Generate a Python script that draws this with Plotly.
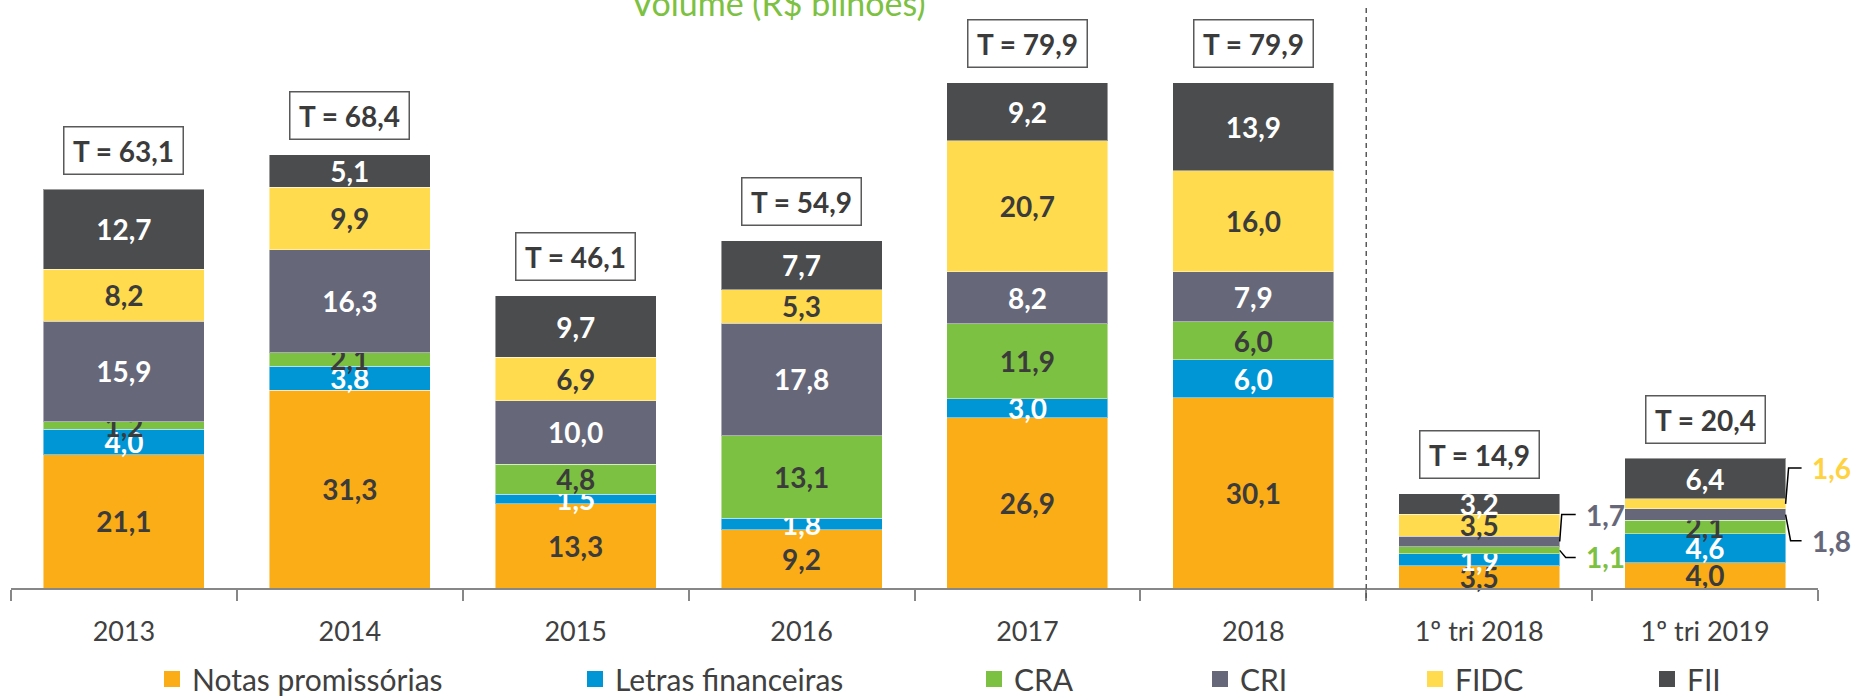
import plotly.graph_objects as go

# ---------------- data ----------------
categories = ['2013', '2014', '2015', '2016', '2017', '2018', '1º tri 2018', '1º tri 2019']
series_names = ['Notas promissórias', 'Letras financeiras', 'CRA', 'CRI', 'FIDC', 'FII']
notas = [21.1, 31.3, 13.3, 9.2, 26.9, 30.1, 3.5, 4.0]
letras = [4.0, 3.8, 1.5, 1.8, 3.0, 6.0, 1.9, 4.6]
cra = [1.2, 2.1, 4.8, 13.1, 11.9, 6.0, 1.1, 2.1]
cri = [15.9, 16.3, 10.0, 17.8, 8.2, 7.9, 1.7, 1.8]
fidc = [8.2, 9.9, 6.9, 5.3, 20.7, 16.0, 3.5, 1.6]
fii = [12.7, 5.1, 9.7, 7.7, 9.2, 13.9, 3.2, 6.4]
totals = [63.1, 68.4, 46.1, 54.9, 79.9, 79.9, 14.9, 20.4]
title_text = 'Volume (R$ bilhões)'
# segments whose label is drawn outside the bar with a leader line: (series index, category index)
outside = [(2, 6), (3, 6), (4, 7), (3, 7)]

# ---------------- style ----------------
W, H = 1853, 696
ML, MR, MT, MB = 11, 35, 0, 108
PW = W - ML - MR
PH = H - MT - MB
SCALE = 6.323  # px per unit
YMAX = PH / SCALE
BAR_FRAC = 0.713
NCAT = len(categories)

colors = ['#FBAD18', '#0096D6', '#7DC142', '#666879', '#FFDB4D', '#4B4C4E']
label_colors = ['#3B3B3B', '#FFFFFF', '#3B3B3B', '#FFFFFF', '#3B3B3B', '#FFFFFF']
outside_colors = {2: '#7DC142', 3: '#666879', 4: '#FFD23F'}
DARK = '#404040'
FONT = 'Lato'
LABEL_SIZE = 28

values = [notas, letras, cra, cri, fidc, fii]


def fmt(v):
    return f'{v:.1f}'.replace('.', ',')


fig = go.Figure()

for si, (name, vals) in enumerate(zip(series_names, values)):
    texts = []
    for ci, v in enumerate(vals):
        texts.append('' if (si, ci) in outside else fmt(v))
    fig.add_trace(go.Bar(
        x=categories, y=vals, name=name,
        marker=dict(color=colors[si], line=dict(color='rgba(255,255,255,0.45)', width=1)),
        text=texts, textposition='inside', insidetextanchor='middle', textangle=0,
        textfont=dict(family=FONT, size=LABEL_SIZE, color=label_colors[si], weight='bold'),
        showlegend=False, hoverinfo='skip', cliponaxis=False,
    ))

# legend entries (square markers) placed individually like the original
legend_marker_centers = [172, 595, 994, 1220, 1435, 1667]
for si, name in enumerate(series_names):
    lname = 'legend' if si == 0 else f'legend{si + 1}'
    fig.add_trace(go.Scatter(
        x=[None], y=[None], mode='markers', name=name,
        marker=dict(symbol='square', size=16, color=colors[si]),
        legend=lname, showlegend=True, hoverinfo='skip',
    ))

legend_y = (H - 679.0) / H
for si in range(len(series_names)):
    lname = 'legend' if si == 0 else f'legend{si + 1}'
    lx = (legend_marker_centers[si] - 20) / W
    fig.update_layout(**{lname: dict(
        x=lx, y=legend_y, xref='container', yref='container',
        xanchor='left', yanchor='middle', orientation='h',
        font=dict(family=FONT, size=30, color=DARK), bgcolor='rgba(0,0,0,0)',
        borderwidth=0, itemwidth=30,
    )})

# stacked tops
stack_tops = [sum(v[ci] for v in values) for ci in range(NCAT)]

annotations = []
for ci, cat in enumerate(categories):
    annotations.append(dict(
        x=ci, y=stack_tops[ci], xref='x', yref='y', text=f'<b>T = {fmt(totals[ci])}</b>',
        showarrow=False, yanchor='middle', xanchor='center', yshift=39,
        font=dict(family=FONT, size=28, color='#3B3B3B'),
        bordercolor='#595959', borderwidth=1.5, borderpad=1, width=116, height=44,
        bgcolor='white',
    ))

# outside labels with leader lines
shapes = []


def px_to_paper_x(px):
    return (px - ML) / PW


def cum_center(si, ci):
    base = sum(values[k][ci] for k in range(si))
    return base + values[si][ci] / 2


leader_cfg = {
    (2, 6): dict(yshift=-7, dx1=6, dx2=16),
    (3, 6): dict(yshift=27, dx1=2, dx2=16),
    (4, 7): dict(yshift=36, dx1=3, dx2=16),
    (3, 7): dict(yshift=-26, dx1=5, dx2=16),
}
for (si, ci), cfg in leader_cfg.items():
    yc = cum_center(si, ci)
    edge_px = ML + (ci + 0.5 + BAR_FRAC / 2) * PW / NCAT
    y_lab = yc + cfg['yshift'] / SCALE
    x0 = px_to_paper_x(edge_px)
    x1 = px_to_paper_x(edge_px + cfg['dx1'])
    x2 = px_to_paper_x(edge_px + cfg['dx2'])
    shapes.append(dict(
        type='path', xref='paper', yref='y',
        path=f'M {x0},{yc} L {x1},{y_lab} L {x2},{y_lab}',
        line=dict(color='black', width=1.5),
    ))
    annotations.append(dict(
        x=px_to_paper_x(edge_px + 24), y=y_lab, xref='paper', yref='y',
        text=f'<b>{fmt(values[si][ci])}</b>', showarrow=False,
        xanchor='left', yanchor='middle',
        font=dict(family=FONT, size=LABEL_SIZE, color=outside_colors[si]),
    ))

# dashed separator between annual and quarterly data
shapes.append(dict(
    type='line', xref='paper', yref='paper',
    x0=6 / NCAT, x1=6 / NCAT, y0=-10 / PH, y1=1 - 8 / PH,
    line=dict(color='#595959', width=1.5, dash='5px,4px'),
))

# cropped title at top
annotations.append(dict(
    x=px_to_paper_x(778), y=1.0 - 3 / PH, xref='paper', yref='paper', text=title_text,
    showarrow=False, xanchor='center', yanchor='middle',
    font=dict(family=FONT, size=34, color='#7DC142'),
))

fig.update_layout(
    width=W, height=H,
    margin=dict(l=ML, r=MR, t=MT, b=MB, pad=0, autoexpand=False),
    barmode='stack', bargap=1 - BAR_FRAC,
    plot_bgcolor='white', paper_bgcolor='white',
    uniformtext=dict(minsize=LABEL_SIZE, mode='show'),
    annotations=annotations, shapes=shapes,
    xaxis=dict(
        type='category', range=[-0.5, NCAT - 0.5], showline=True, linecolor='#878787', linewidth=1.5,
        ticks='outside', tickson='boundaries', ticklen=11, tickcolor='#878787', tickwidth=1.5,
        tickfont=dict(family=FONT, size=27, color=DARK), ticklabelstandoff=19, tickangle=0,
        showgrid=False, zeroline=False, fixedrange=True, automargin=False,
    ),
    yaxis=dict(visible=False, range=[0, YMAX], fixedrange=True, automargin=False),
    font=dict(family=FONT),
)

fig.write_html('out.html', config={'displayModeBar': False},
               post_script="document.body.style.margin='0';document.body.style.overflow='hidden';")
